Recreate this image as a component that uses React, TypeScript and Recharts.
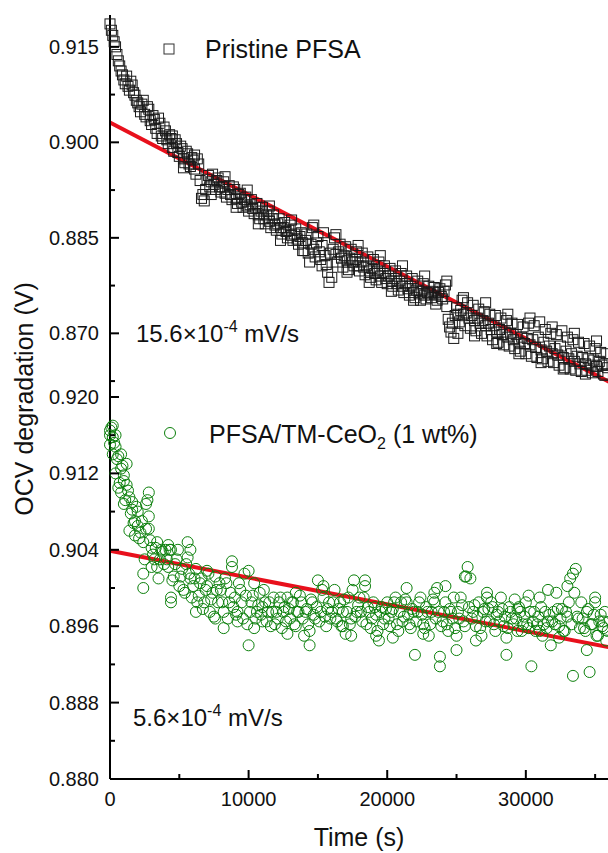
import React from "react";
import { ScatterChart, Scatter, XAxis, YAxis, ReferenceLine } from "recharts";

// sampling times (s), shared by both runs
const timeS = [
  0, 200, 400, 600, 800, 1000, 1200, 1400, 1600, 1800,
  2000, 2200, 2400, 2600, 2800, 3000, 3200, 3400, 3600, 3800,
  4000, 4200, 4400, 4600, 4800, 5000, 5200, 5400, 5600, 5800,
  6000, 6200, 6400, 6600, 6800, 7000, 7200, 7400, 7600, 7800,
  8000, 8200, 8400, 8600, 8800, 9000, 9200, 9400, 9600, 9800,
  10000, 10200, 10400, 10600, 10800, 11000, 11200, 11400, 11600, 11800,
  12000, 12200, 12400, 12600, 12800, 13000, 13200, 13400, 13600, 13800,
  14000, 14200, 14400, 14600, 14800, 15000, 15200, 15400, 15600, 15800,
  16000, 16200, 16400, 16600, 16800, 17000, 17200, 17400, 17600, 17800,
  18000, 18200, 18400, 18600, 18800, 19000, 19200, 19400, 19600, 19800,
  20000, 20200, 20400, 20600, 20800, 21000, 21200, 21400, 21600, 21800,
  22000, 22200, 22400, 22600, 22800, 23000, 23200, 23400, 23600, 23800,
  24000, 24200, 24400, 24600, 24800, 25000, 25200, 25400, 25600, 25800,
  26000, 26200, 26400, 26600, 26800, 27000, 27200, 27400, 27600, 27800,
  28000, 28200, 28400, 28600, 28800, 29000, 29200, 29400, 29600, 29800,
  30000, 30200, 30400, 30600, 30800, 31000, 31200, 31400, 31600, 31800,
  32000, 32200, 32400, 32600, 32800, 33000, 33200, 33400, 33600, 33800,
  34000, 34200, 34400, 34600, 34800, 35000, 35200, 35400, 35600, 35800,
];

// the in-between readings
const timeHalf = [
  100, 300, 500, 700, 900, 1100, 1300, 1500, 1700, 1900,
  2100, 2300, 2500, 2700, 2900, 3100, 3300, 3500, 3700, 3900,
  4100, 4300, 4500, 4700, 4900, 5100, 5300, 5500, 5700, 5900,
  6100, 6300, 6500, 6700, 6900, 7100, 7300, 7500, 7700, 7900,
  8100, 8300, 8500, 8700, 8900, 9100, 9300, 9500, 9700, 9900,
  10100, 10300, 10500, 10700, 10900, 11100, 11300, 11500, 11700, 11900,
  12100, 12300, 12500, 12700, 12900, 13100, 13300, 13500, 13700, 13900,
  14100, 14300, 14500, 14700, 14900, 15100, 15300, 15500, 15700, 15900,
  16100, 16300, 16500, 16700, 16900, 17100, 17300, 17500, 17700, 17900,
  18100, 18300, 18500, 18700, 18900, 19100, 19300, 19500, 19700, 19900,
  20100, 20300, 20500, 20700, 20900, 21100, 21300, 21500, 21700, 21900,
  22100, 22300, 22500, 22700, 22900, 23100, 23300, 23500, 23700, 23900,
  24100, 24300, 24500, 24700, 24900, 25100, 25300, 25500, 25700, 25900,
  26100, 26300, 26500, 26700, 26900, 27100, 27300, 27500, 27700, 27900,
  28100, 28300, 28500, 28700, 28900, 29100, 29300, 29500, 29700, 29900,
  30100, 30300, 30500, 30700, 30900, 31100, 31300, 31500, 31700, 31900,
  32100, 32300, 32500, 32700, 32900, 33100, 33300, 33500, 33700, 33900,
  34100, 34300, 34500, 34700, 34900, 35100, 35300, 35500, 35700, 35900,
];

// Pristine PFSA OCV (V)
const pfsaOcv = [
  0.9186, 0.9168, 0.915, 0.9128, 0.9112, 0.9098, 0.9104, 0.9082, 0.909, 0.9074,
  0.9062, 0.9048, 0.9066, 0.904, 0.9052, 0.9028, 0.9036, 0.9014, 0.903, 0.9006,
  0.9018, 0.8998, 0.9006, 0.8986, 0.8998, 0.8978, 0.899, 0.8968, 0.8982, 0.8962,
  0.8972, 0.895, 0.8966, 0.8912, 0.8908, 0.8942, 0.893, 0.895, 0.8926, 0.8944,
  0.8922, 0.8938, 0.8914, 0.8932, 0.891, 0.8926, 0.8904, 0.892, 0.8898, 0.8914,
  0.8892, 0.891, 0.8888, 0.8904, 0.888, 0.8898, 0.8872, 0.8892, 0.8866, 0.8886,
  0.8862, 0.888, 0.8856, 0.8874, 0.885, 0.887, 0.8846, 0.8864, 0.884, 0.8858,
  0.883, 0.8856, 0.8812, 0.8866, 0.882, 0.8852, 0.8816, 0.8858, 0.8808, 0.878,
  0.8788, 0.885, 0.8812, 0.884, 0.8804, 0.8836, 0.88, 0.8832, 0.8806, 0.8828,
  0.8798, 0.8826, 0.8792, 0.882, 0.8788, 0.8816, 0.8784, 0.8812, 0.878, 0.8806,
  0.8778, 0.8802, 0.8774, 0.8798, 0.8768, 0.8794, 0.8764, 0.879, 0.876, 0.8786,
  0.8756, 0.8782, 0.8752, 0.8778, 0.8754, 0.8774, 0.8756, 0.8772, 0.8752, 0.877,
  0.8754, 0.8776, 0.8722, 0.8702, 0.8692, 0.874, 0.8718, 0.8752, 0.8712, 0.8748,
  0.8708, 0.8744, 0.8704, 0.8738, 0.87, 0.8734, 0.8696, 0.873, 0.869, 0.8728,
  0.8686, 0.8724, 0.8682, 0.872, 0.868, 0.8716, 0.8676, 0.8714, 0.8672, 0.871,
  0.8668, 0.8716, 0.8664, 0.8712, 0.8662, 0.8718, 0.866, 0.8706, 0.8656, 0.87,
  0.8654, 0.8698, 0.865, 0.8704, 0.8646, 0.8694, 0.8644, 0.869, 0.8642, 0.8686,
  0.864, 0.8684, 0.8642, 0.868, 0.8638, 0.8676, 0.864, 0.867, 0.8636, 0.8668,
];
const pfsaOcvHalf = [
  0.9176, 0.9158, 0.9138, 0.912, 0.9106, 0.9092, 0.9088, 0.9096, 0.9078, 0.9066,
  0.9056, 0.906, 0.9044, 0.9056, 0.9034, 0.9042, 0.9022, 0.9038, 0.901, 0.9024,
  0.9004, 0.9012, 0.8992, 0.9004, 0.8984, 0.8994, 0.8974, 0.8986, 0.8966, 0.8976,
  0.8958, 0.8974, 0.894, 0.8918, 0.8926, 0.8948, 0.8938, 0.8934, 0.894, 0.893,
  0.893, 0.892, 0.8926, 0.8918, 0.893, 0.8912, 0.8918, 0.8906, 0.891, 0.89,
  0.8902, 0.8896, 0.8898, 0.8886, 0.8892, 0.888, 0.8886, 0.8876, 0.888, 0.887,
  0.8872, 0.8866, 0.8866, 0.886, 0.8862, 0.8854, 0.8856, 0.8848, 0.8852, 0.8842,
  0.8846, 0.8826, 0.884, 0.8832, 0.8842, 0.8828, 0.8838, 0.8822, 0.8796, 0.8826,
  0.8832, 0.8824, 0.8828, 0.8818, 0.8822, 0.8814, 0.8818, 0.8812, 0.8816, 0.8806,
  0.8812, 0.8804, 0.8806, 0.8798, 0.8802, 0.8794, 0.8798, 0.879, 0.8794, 0.8786,
  0.879, 0.8782, 0.8786, 0.8778, 0.8782, 0.8774, 0.8778, 0.877, 0.8774, 0.8764,
  0.8768, 0.8762, 0.8766, 0.876, 0.8764, 0.8762, 0.8766, 0.876, 0.8764, 0.8758,
  0.8766, 0.8742, 0.871, 0.8716, 0.8728, 0.873, 0.8736, 0.873, 0.8732, 0.8724,
  0.8728, 0.872, 0.8724, 0.8716, 0.872, 0.8712, 0.8716, 0.8706, 0.8712, 0.8702,
  0.8706, 0.8698, 0.8702, 0.8694, 0.87, 0.869, 0.8698, 0.8686, 0.8694, 0.8684,
  0.8692, 0.8682, 0.869, 0.8678, 0.8694, 0.8674, 0.8686, 0.8672, 0.868, 0.8668,
  0.8676, 0.8666, 0.868, 0.8662, 0.8672, 0.866, 0.8668, 0.8656, 0.8664, 0.8652,
  0.8662, 0.8652, 0.866, 0.865, 0.8658, 0.8648, 0.8656, 0.865, 0.8652, 0.8646,
];
// readings at the edges of the band
const pfsaEdgeTime = [
  4500, 5300, 6100, 7300, 8300, 9100, 9900, 10700, 11500, 12300,
  13100, 13900, 14700, 15300, 16300, 17100, 17900, 18700, 19500, 20300,
  21100, 21900, 22700, 23500, 24300, 25100, 25500, 26300, 27100, 27900,
  28700, 29500, 30300, 31100, 31900, 32700, 33500, 34300, 35100, 35700,
];
const pfsaEdgeOcv = [
  0.901, 0.896, 0.898, 0.8918, 0.8946, 0.8898, 0.8925, 0.8872, 0.89, 0.8846,
  0.8878, 0.883, 0.887, 0.8806, 0.8855, 0.8796, 0.8838, 0.878, 0.8822, 0.8766,
  0.8806, 0.8752, 0.879, 0.8746, 0.8782, 0.87, 0.8756, 0.8696, 0.8748, 0.8684,
  0.873, 0.8668, 0.8724, 0.8654, 0.871, 0.8644, 0.87, 0.8636, 0.8688, 0.8634,
];

// PFSA/TM-CeO2 (1 wt%) OCV (V)
const ceo2Ocv = [
  0.916, 0.917, 0.9148, 0.9138, 0.9125, 0.9112, 0.913, 0.9095, 0.9082, 0.907,
  0.9065, 0.9058, 0.9048, 0.9062, 0.91, 0.9042, 0.903, 0.9048, 0.903, 0.9038,
  0.904, 0.9022, 0.904, 0.9012, 0.903, 0.9002, 0.902, 0.8995, 0.9032, 0.901,
  0.9002, 0.902, 0.8992, 0.901, 0.8985, 0.9002, 0.8975, 0.8995, 0.9012, 0.8985,
  0.8998, 0.8975, 0.9005, 0.8985, 0.9022, 0.899, 0.8975, 0.8998, 0.8968, 0.8992,
  0.894, 0.8985, 0.9005, 0.8975, 0.8995, 0.8965, 0.8985, 0.8975, 0.896, 0.899,
  0.8975, 0.8985, 0.8958, 0.898, 0.899, 0.8968, 0.8985, 0.896, 0.8975, 0.8985,
  0.895, 0.8978, 0.894, 0.8985, 0.8968, 0.9008, 0.8975, 0.899, 0.896, 0.8985,
  0.8975, 0.8998, 0.8965, 0.8985, 0.8975, 0.8952, 0.899, 0.8968, 0.9008, 0.8975,
  0.899, 0.8965, 0.9008, 0.898, 0.8958, 0.8985, 0.8972, 0.8945, 0.898, 0.8968,
  0.8985, 0.896, 0.8978, 0.899, 0.8955, 0.8985, 0.897, 0.9, 0.8962, 0.8978,
  0.893, 0.8975, 0.899, 0.8962, 0.898, 0.895, 0.8975, 0.8985, 0.9, 0.8918,
  0.8965, 0.8985, 0.8955, 0.8975, 0.899, 0.8935, 0.8968, 0.8982, 0.896, 0.9022,
  0.901, 0.8975, 0.896, 0.8985, 0.895, 0.8978, 0.8995, 0.8965, 0.898, 0.8955,
  0.8975, 0.899, 0.896, 0.893, 0.898, 0.8968, 0.8988, 0.8955, 0.8975, 0.8962,
  0.8985, 0.8958, 0.8918, 0.8975, 0.8962, 0.899, 0.895, 0.8975, 0.8965, 0.894,
  0.8975, 0.8995, 0.896, 0.8978, 0.8955, 0.897, 0.901, 0.8908, 0.902, 0.8968,
  0.8985, 0.8958, 0.8975, 0.8912, 0.8962, 0.899, 0.895, 0.8972, 0.8958, 0.8945,
];
const ceo2OcvHalf = [
  0.9168, 0.9152, 0.9135, 0.911, 0.9128, 0.9092, 0.9102, 0.9078, 0.9068, 0.9085,
  0.9052, 0.907, 0.903, 0.9092, 0.905, 0.9035, 0.9042, 0.901, 0.904, 0.9025,
  0.903, 0.904, 0.9008, 0.9025, 0.904, 0.9012, 0.8998, 0.9025, 0.9015, 0.899,
  0.901, 0.8985, 0.9005, 0.8978, 0.8998, 0.9015, 0.8988, 0.897, 0.8998, 0.9005,
  0.8985, 0.901, 0.8968, 0.8995, 0.898, 0.8972, 0.9005, 0.8985, 0.9015, 0.8962,
  0.8975, 0.8992, 0.8968, 0.8982, 0.8972, 0.8998, 0.8965, 0.8985, 0.8975, 0.8962,
  0.8968, 0.899, 0.8975, 0.8965, 0.8978, 0.8985, 0.8962, 0.8975, 0.8992, 0.8968,
  0.8975, 0.8962, 0.8988, 0.8972, 0.898, 0.8965, 0.8998, 0.897, 0.8978, 0.8968,
  0.8985, 0.8968, 0.8978, 0.896, 0.8988, 0.8975, 0.8962, 0.8998, 0.897, 0.8982,
  0.8975, 0.899, 0.8962, 0.8975, 0.8968, 0.898, 0.8955, 0.8975, 0.8962, 0.8978,
  0.8968, 0.8975, 0.8985, 0.8962, 0.8975, 0.8965, 0.8988, 0.8972, 0.8958, 0.8975,
  0.8965, 0.8985, 0.8972, 0.8958, 0.8975, 0.8962, 0.8988, 0.8968, 0.8975, 0.896,
  0.8975, 0.8962, 0.8978, 0.8968, 0.8958, 0.8975, 0.899, 0.8965, 0.9012, 0.898,
  0.8968, 0.8982, 0.897, 0.8958, 0.8975, 0.8965, 0.8978, 0.8985, 0.8962, 0.8972,
  0.8965, 0.8978, 0.897, 0.8958, 0.8975, 0.8962, 0.8968, 0.898, 0.8955, 0.897,
  0.8962, 0.8975, 0.8965, 0.8955, 0.897, 0.898, 0.8962, 0.8958, 0.8972, 0.8965,
  0.8962, 0.8978, 0.8968, 0.8955, 0.8975, 0.8985, 0.8962, 0.8995, 0.897, 0.8958,
  0.8968, 0.8955, 0.8978, 0.8962, 0.8972, 0.895, 0.8965, 0.896, 0.8975, 0.8955,
];

// repeated readings that stack up at the same time
const ceo2ExtraTime = [
  0, 0, 200, 200, 400, 400, 600, 800, 800, 1000, 1000, 1200, 1400, 1600, 1800,
  2000, 2400, 2400, 2600, 2800, 2800, 3000, 3400, 4200, 4400, 4400, 5600, 5800,
  6200, 7000, 7600, 8200, 8800, 9200, 10000, 10400, 11000, 12800, 13400, 14400,
  15400, 16800, 17400, 18400, 19200, 20400, 21400, 22600, 23400, 23800, 24200,
  25000, 25600, 26400, 27200, 28600, 29400, 30200, 31000, 31600, 32400, 33000,
  33400, 34400, 35000, 35600,
];
const ceo2ExtraOcv = [
  0.915, 0.9165, 0.9158, 0.914, 0.916, 0.912, 0.9105, 0.91, 0.914, 0.9118, 0.9088,
  0.9108, 0.906, 0.909, 0.9055, 0.908, 0.9015, 0.9, 0.9088, 0.9075, 0.9062, 0.9022,
  0.9022, 0.9045, 0.899, 0.8985, 0.9048, 0.904, 0.8975, 0.9018, 0.8968, 0.8958,
  0.9028, 0.8965, 0.9018, 0.8958, 0.898, 0.8952, 0.8995, 0.8955, 0.9002, 0.896,
  0.895, 0.9002, 0.895, 0.8948, 0.8985, 0.8952, 0.8995, 0.8928, 0.9002, 0.895,
  0.9012, 0.8945, 0.899, 0.8948, 0.8978, 0.8992, 0.8955, 0.8998, 0.8948, 0.9002,
  0.9015, 0.8935, 0.8985, 0.8965,
];

// linear fits (ends of the red lines)
const fitTime = [0, 36000];
const fitPfsa = [0.9031, 0.8624];
const fitCeo2 = [0.9039, 0.8938];

const xTicks = [0, 5000, 10000, 15000, 20000, 25000, 30000, 35000];
const xMajor = [0, 10000, 20000, 30000];
const pfsaTicks = [0.8625, 0.87, 0.8775, 0.885, 0.8925, 0.9, 0.9075, 0.915];
const pfsaMajor = [0.87, 0.885, 0.9, 0.915];
const ceo2Ticks = [0.88, 0.884, 0.888, 0.892, 0.896, 0.9, 0.904, 0.908, 0.912, 0.916, 0.92];
const ceo2Major = [0.88, 0.888, 0.896, 0.904, 0.912, 0.92];

const FONT = "'Liberation Sans', Arial, Helvetica, sans-serif";
const RED = "#e8101c";
const GREEN = "#0c800c";
const AXIS = { stroke: "#000", strokeWidth: 2 };

const pfsaPoints = [
  ...timeS.map((t, i) => ({ t, v: pfsaOcv[i] })),
  ...timeHalf.map((t, i) => ({ t, v: pfsaOcvHalf[i] })),
  ...pfsaEdgeTime.map((t, i) => ({ t, v: pfsaEdgeOcv[i] })),
];
const ceo2Points = [
  ...timeS.map((t, i) => ({ t, v: ceo2Ocv[i] })),
  ...timeHalf.map((t, i) => ({ t, v: ceo2OcvHalf[i] })),
  ...ceo2ExtraTime.map((t, i) => ({ t, v: ceo2ExtraOcv[i] })),
];

type Side = "left" | "right" | "top" | "bottom";

// inward ticks (Origin style), labels only on major ticks
const axisTick = (side: Side, majors: number[], fmt?: (v: number) => string) =>
  function Tick(p: any) {
    const { x, y, payload } = p;
    const v = payload.value;
    const major = majors.some((m) => Math.abs(m - v) < 1e-7);
    const len = major ? 9 : 5;
    let d = [x, y, x, y - len];
    if (side === "left") d = [x, y, x + len, y];
    if (side === "right") d = [x, y, x - len, y];
    if (side === "top") d = [x, y, x, y + len];
    return (
      <g>
        <line x1={d[0]} y1={d[1]} x2={d[2]} y2={d[3]} stroke="#000" strokeWidth={2} />
        {major && fmt && side === "left" && (
          <text x={x - 11} y={y} textAnchor="end" dominantBaseline="central" fontSize={20} fontFamily={FONT} fill="#111">
            {fmt(v)}
          </text>
        )}
        {major && fmt && side === "bottom" && (
          <text x={x} y={y + 27} textAnchor="middle" fontSize={20} fontFamily={FONT} fill="#111">
            {fmt(v)}
          </text>
        )}
      </g>
    );
  };

const fmtV = (v: number) => v.toFixed(3);
const fmtT = (v: number) => String(Math.round(v));

const SquareMark = (p: any) => (
  <rect x={p.cx - 5} y={p.cy - 5} width={10} height={10} fill="none" stroke="#1a1a1a" strokeWidth={1} />
);
const CircleMark = (p: any) => (
  <circle cx={p.cx} cy={p.cy} r={5.5} fill="none" stroke={GREEN} strokeWidth={1} />
);

function TopPanel() {
  return (
    <ScatterChart width={612} height={398} margin={{ top: 15, right: 3, bottom: 1, left: 0 }}>
      <XAxis xAxisId="b" dataKey="t" type="number" domain={[0, 36000]} ticks={xTicks} interval={0}
        height={0} tickSize={0} tickMargin={0} tickLine={false} axisLine={AXIS} tick={axisTick("bottom", xMajor)} />
      <XAxis xAxisId="t" dataKey="t" type="number" orientation="top" domain={[0, 36000]} ticks={xTicks} interval={0}
        height={0} tickSize={0} tickMargin={0} tickLine={false} axisLine={AXIS} tick={axisTick("top", xMajor)} />
      <YAxis yAxisId="l" dataKey="v" type="number" domain={[0.86, 0.92]} ticks={pfsaTicks} interval={0}
        width={110} tickSize={0} tickMargin={0} tickLine={false} axisLine={AXIS} tick={axisTick("left", pfsaMajor, fmtV)} />
      <YAxis yAxisId="r" dataKey="v" type="number" orientation="right" domain={[0.86, 0.92]} ticks={pfsaTicks} interval={0}
        width={0} tickSize={0} tickMargin={0} tickLine={false} axisLine={AXIS} tick={axisTick("right", pfsaMajor)} />
      <Scatter xAxisId="b" yAxisId="l" data={pfsaPoints} shape={SquareMark} isAnimationActive={false} />
      <ReferenceLine xAxisId="b" yAxisId="l"
        segment={[{ x: fitTime[0], y: fitPfsa[0] }, { x: fitTime[1], y: fitPfsa[1] }]}
        stroke={RED} strokeWidth={4} />
    </ScatterChart>
  );
}

function BottomPanel() {
  return (
    <ScatterChart width={612} height={473} margin={{ top: 17, right: 3, bottom: 0, left: 0 }}>
      <XAxis xAxisId="b" dataKey="t" type="number" domain={[0, 36000]} ticks={xTicks} interval={0}
        height={74} tickSize={0} tickMargin={0} tickLine={false} axisLine={AXIS} tick={axisTick("bottom", xMajor, fmtT)} />
      <YAxis yAxisId="l" dataKey="v" type="number" domain={[0.88, 0.92]} ticks={ceo2Ticks} interval={0}
        width={110} tickSize={0} tickMargin={0} tickLine={false} axisLine={AXIS} tick={axisTick("left", ceo2Major, fmtV)} />
      <YAxis yAxisId="r" dataKey="v" type="number" orientation="right" domain={[0.88, 0.92]} ticks={ceo2Ticks} interval={0}
        width={0} tickSize={0} tickMargin={0} tickLine={false} axisLine={AXIS} tick={axisTick("right", ceo2Major)} />
      <Scatter xAxisId="b" yAxisId="l" data={ceo2Points} shape={CircleMark} isAnimationActive={false} />
      <ReferenceLine xAxisId="b" yAxisId="l"
        segment={[{ x: fitTime[0], y: fitCeo2[0] }, { x: fitTime[1], y: fitCeo2[1] }]}
        stroke={RED} strokeWidth={4} />
    </ScatterChart>
  );
}

export default function App() {
  return (
    <div style={{ position: "absolute", left: 0, top: 0, width: 608, height: 853, overflow: "hidden", background: "#fff" }}>
      <div style={{ position: "absolute", left: 0, top: 380 }}>
        <BottomPanel />
      </div>
      <div style={{ position: "absolute", left: 0, top: 0 }}>
        <TopPanel />
      </div>
      <svg width={608} height={853} style={{ position: "absolute", left: 0, top: 0, pointerEvents: "none" }}
        fontFamily={FONT} fill="#111">
        <text transform="translate(33,399) rotate(-90)" textAnchor="middle" fontSize={25}>OCV degradation (V)</text>
        <text x={359} y={846} textAnchor="middle" fontSize={25}>Time (s)</text>
        {/* legends */}
        <rect x={164} y={44} width={10} height={10} fill="none" stroke="#333" strokeWidth={1} />
        <text x={205} y={58} fontSize={25}>Pristine PFSA</text>
        <circle cx={170} cy={433} r={5.5} fill="none" stroke={GREEN} strokeWidth={1} />
        <text x={209} y={443} fontSize={25}>
          PFSA/TM-CeO<tspan fontSize={16} dy={6}>2</tspan><tspan dy={-6}> (1 wt%)</tspan>
        </text>
        {/* fitted slopes */}
        <text x={136} y={342} fontSize={24}>
          15.6×10<tspan fontSize={16} dy={-10}>-4</tspan><tspan dy={10}> mV/s</tspan>
        </text>
        <text x={133} y={726} fontSize={24}>
          5.6×10<tspan fontSize={16} dy={-10}>-4</tspan><tspan dy={10}> mV/s</tspan>
        </text>
      </svg>
    </div>
  );
}
